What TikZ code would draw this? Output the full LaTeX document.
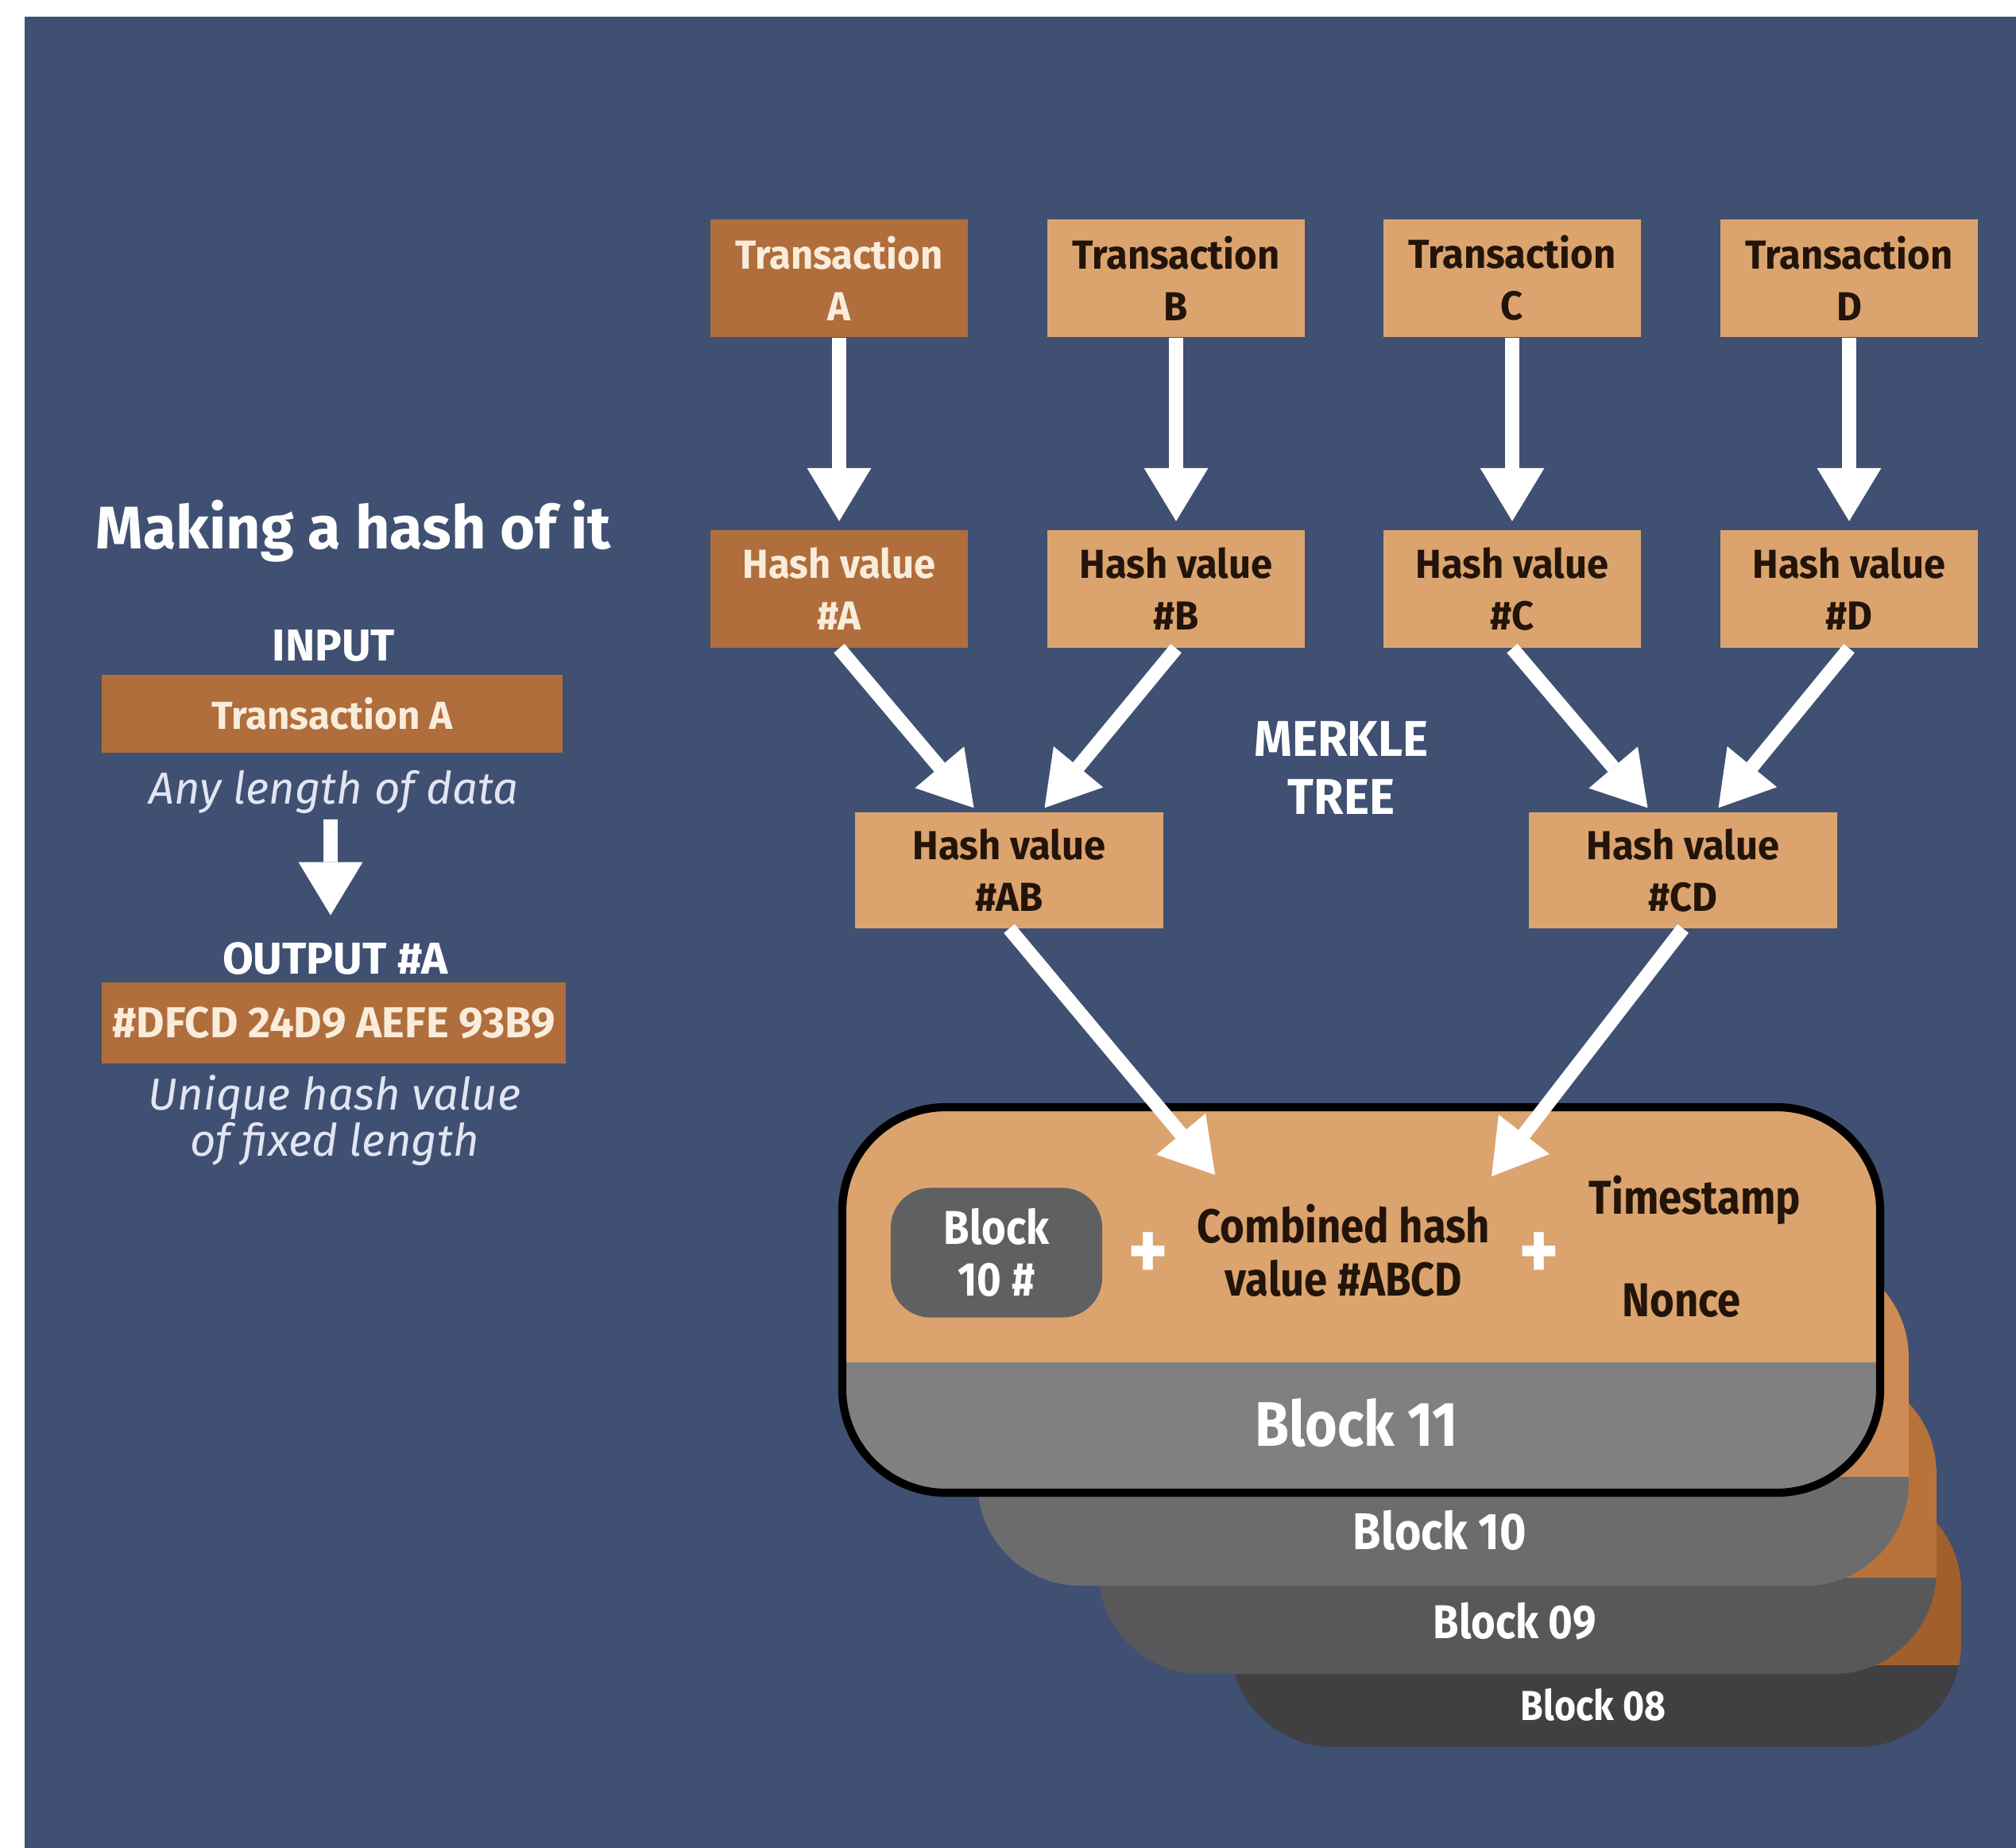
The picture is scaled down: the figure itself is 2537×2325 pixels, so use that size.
\documentclass[tikz,border=0pt]{standalone}
\usepackage{fontspec}
\setmainfont{Fira Sans}[FakeStretch=0.88]
\newfontfamily\panelfont{Fira Sans}
\newfontfamily\treefont{Fira Sans}[FakeStretch=0.96]
\usetikzlibrary{arrows.meta}
\usetikzlibrary{calc}

\definecolor{bluebg}{RGB}{63,80,115}
\definecolor{tanbox}{RGB}{219,164,110}
\definecolor{brownbox}{RGB}{176,110,60}
\definecolor{darktext}{RGB}{35,20,10}
\definecolor{creamtext}{RGB}{250,236,218}
\definecolor{lighttext}{RGB}{226,229,242}
\definecolor{graya}{RGB}{128,128,130}
\definecolor{grayb}{RGB}{108,108,110}
\definecolor{grayc}{RGB}{88,88,90}
\definecolor{grayd}{RGB}{64,64,66}
\definecolor{tanb}{RGB}{205,140,85}
\definecolor{tanc}{RGB}{185,115,58}
\definecolor{tand}{RGB}{160,95,45}
\definecolor{prevgray}{RGB}{95,96,98}

\tikzset{
  txbox/.style={rectangle, fill=tanbox, text=darktext, align=center, inner sep=0pt,
    minimum width=3.24cm, minimum height=1.48cm, font=\treefont\bfseries\fontsize{14.5}{18.5}\selectfont},
  txboxA/.style={txbox, fill=brownbox, text=creamtext},
  pairbox/.style={txbox, minimum width=3.88cm, minimum height=1.45cm},
  inbox/.style={rectangle, fill=brownbox, text=creamtext, inner sep=0pt, minimum height=0.98cm},
  label/.style={inner sep=0pt, align=center, text=white},
  note/.style={inner sep=0pt, align=center, text=lighttext, font=\panelfont\itshape\fontsize{16}{16.5}\selectfont},
  hasharrow/.style={white, line width=5pt, -{Triangle[width=23pt,length=19pt,line width=0pt]}},
  blocklbl/.style={inner sep=0pt, text=white, font=\bfseries},
}

\begin{document}
\begin{tikzpicture}[x=0.01cm, y=-0.01cm]
  \useasboundingbox (0,0) rectangle (2537,2325);
  \fill[white] (0,0) rectangle (2537,2325);
  \fill[bluebg] (31,21) rectangle (2537,2325);

  % left panel
  \node[label, font=\panelfont\bfseries\fontsize{21.5}{24}\selectfont] (title) at (445,668) {Making a hash of it};
  \node[label, font=\panelfont\bfseries\fontsize{16}{18}\selectfont] (inlbl) at (420,812) {INPUT};
  \node[inbox, minimum width=5.79cm, font=\panelfont\bfseries\fontsize{14}{16}\selectfont] (inbox) at (418,898) {Transaction A};
  \node[note] (anylen) at (420,996) {Any length of data};
  \node[label, font=\panelfont\bfseries\fontsize{16}{19}\selectfont] (outlbl) at (422,1206) {OUTPUT \#A};
  \node[inbox, minimum width=5.83cm, minimum height=1.01cm, font=\panelfont\bfseries\fontsize{15.5}{17}\selectfont] (outbox) at (420,1287) {\#DFCD 24D9 AEFE 93B9};
  \node[note] (unique) at (421,1410) {Unique hash value\\of fixed length};

  \path ([xshift=-0.04cm, yshift=-2pt]anylen.south) edge[hasharrow] ([xshift=-0.06cm, yshift=9.5pt]outlbl.north);

  % merkle tree
  \node[txboxA] (tA) at (1056,350) {Transaction\\A};
  \node[txbox] (tB) at (1480,350) {Transaction\\B};
  \node[txbox] (tC) at (1903,350) {Transaction\\C};
  \node[txbox] (tD) at (2327,350) {Transaction\\D};

  \node[txboxA] (hA) at (1056,741) {Hash value\\\#A};
  \node[txbox] (hB) at (1480,741) {Hash value\\\#B};
  \node[txbox] (hC) at (1903,741) {Hash value\\\#C};
  \node[txbox] (hD) at (2327,741) {Hash value\\\#D};

  \node[pairbox] (hAB) at (1270,1095) {Hash value\\\#AB};
  \node[pairbox] (hCD) at (2118,1095) {Hash value\\\#CD};

  \node[label, font=\treefont\bfseries\fontsize{18}{21}\selectfont] (merkle) at (1688,966) {MERKLE\\TREE};

  % chain of blocks, back to front
  \begin{scope}
    \clip[rounded corners=1.3cm] (1548,1870) rectangle (2468,2198);
    \fill[tand] (1548,1870) rectangle (2468,2095);
    \fill[grayd] (1548,2095) rectangle (2468,2198);
  \end{scope}
  \begin{scope}
    \clip[rounded corners=1.3cm] (1382,1724) rectangle (2437,2106);
    \fill[tanc] (1382,1724) rectangle (2437,1985);
    \fill[grayc] (1382,1985) rectangle (2437,2106);
  \end{scope}
  \begin{scope}
    \clip[rounded corners=1.3cm] (1230,1578) rectangle (2402,1995);
    \fill[tanb] (1230,1578) rectangle (2402,1858);
    \fill[grayb] (1230,1858) rectangle (2402,1995);
  \end{scope}
  \begin{scope}
    \clip[rounded corners=1.3cm] (1060,1393) rectangle (2366,1878);
    \fill[tanbox] (1060,1393) rectangle (2366,1714);
    \fill[graya] (1060,1714) rectangle (2366,1878);
  \end{scope}
  \draw[black, line width=2.9pt, rounded corners=1.3cm] (1060,1393) rectangle (2366,1878);

  \node[blocklbl, font=\bfseries\fontsize{15}{17}\selectfont] (b08) at (2005,2145) {Block 08};
  \node[blocklbl, font=\bfseries\fontsize{17}{19}\selectfont] (b09) at (1906,2040) {Block 09};
  \node[blocklbl, font=\bfseries\fontsize{18.5}{20}\selectfont] (b10) at (1812,1925) {Block 10};
  \node[blocklbl, font=\bfseries\fontsize{22.5}{24}\selectfont] (b11) at (1707,1790) {Block 11};

  \node[rectangle, rounded corners=0.5cm, fill=prevgray, text=white, align=center,
    minimum width=2.66cm, minimum height=1.63cm, inner sep=0pt,
    font=\bfseries\fontsize{17}{18.5}\selectfont] (prevhash) at (1254,1576) {Block\\10 \#};
  \node[label, font=\bfseries\fontsize{31}{31}\selectfont] (plus1) at (1445,1581) {+};
  \node[label, text=darktext, font=\bfseries\fontsize{17}{19}\selectfont] (comb) at (1691,1573) {Combined hash\\value \#ABCD};
  \node[label, font=\bfseries\fontsize{31}{31}\selectfont] (plus2) at (1937,1581) {+};
  \node[label, text=darktext, font=\bfseries\fontsize{17}{19}\selectfont] (tstamp) at (2133,1510) {Timestamp};
  \node[label, text=darktext, font=\bfseries\fontsize{17}{19}\selectfont] (nonce) at (2116,1636) {Nonce};

  \coordinate (tipL) at (1529,1478);
  \coordinate (tipR) at (1877,1480);

  \path (tA) edge[hasharrow, shorten >=3pt] (hA);
  \path (tB) edge[hasharrow, shorten >=3pt] (hB);
  \path (tC) edge[hasharrow, shorten >=3pt] (hC);
  \path (tD) edge[hasharrow, shorten >=3pt] (hD);

  \path (hA.south) edge[hasharrow, shorten >=2pt] ([xshift=-0.4cm]hAB.north);
  \path (hB.south) edge[hasharrow, shorten >=2pt] ([xshift=0.4cm]hAB.north);
  \path (hC.south) edge[hasharrow, shorten >=2pt] ([xshift=-0.4cm]hCD.north);
  \path (hD.south) edge[hasharrow, shorten >=2pt] ([xshift=0.4cm]hCD.north);

  \path (hAB.south) edge[hasharrow] (tipL);
  \path (hCD.south) edge[hasharrow] (tipR);
\end{tikzpicture}
\end{document}
